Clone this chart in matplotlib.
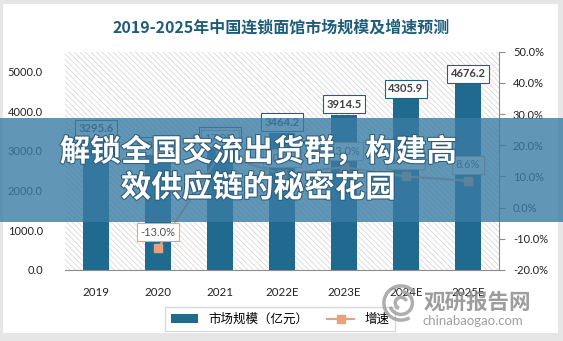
import numpy as np
import matplotlib
matplotlib.use("Agg")
import matplotlib.pyplot as plt
from matplotlib.patches import Rectangle, Patch, Arc
from matplotlib.lines import Line2D
import matplotlib.patheffects as pe

plt.rcParams['font.family'] = ['Lato', 'Noto Sans CJK SC', 'DejaVu Sans']
plt.rcParams['axes.unicode_minus'] = False
plt.rcParams['hatch.linewidth'] = 0.5

years = ["2019", "2020", "2021", "2022E", "2023E", "2024E", "2025E"]
market_size = [3295.6, 2867.2, 3130.0, 3464.2, 3914.5, 4305.9, 4676.2]
growth = [None, -13.0, 17.0, 10.7, 13.0, 10.0, 8.6]

BAR = "#1f6a8e"
LINE = "#e9a07d"
W, H = 563, 341

fig = plt.figure(figsize=(W / 100, H / 100), dpi=100)
fig.patch.set_facecolor("#e6e6e6")
fig.patches.append(Rectangle((3 / W, 1 - 333 / H), 555 / W, 329 / H,
                             transform=fig.transFigure, facecolor="white",
                             edgecolor="none", zorder=0))

ax = fig.add_axes([65 / W, 1 - 270 / H, 434 / W, 218.3 / H])
ax.set_zorder(1)
ax.patch.set_alpha(0)
# hatched plot area
ax.add_patch(Rectangle((0, 0), 1, 1, transform=ax.transAxes, facecolor="white",
                       edgecolor="#d2d2d2", hatch="\\" * 6, linewidth=0, zorder=0))

x = np.arange(len(years))
ax.bar(x, market_size, width=0.42, color=BAR, zorder=2)
ax.set_xlim(-0.5, len(years) - 0.5)
ax.set_ylim(0, 5500)
ax.set_yticks(np.arange(0, 5001, 1000))
ax.set_yticklabels([f"{v:.1f}" for v in np.arange(0, 5001, 1000)])
ax.set_xticks(x)
ax.set_xticklabels(years)
ax.tick_params(axis="y", length=0, pad=16, labelsize=8, labelcolor="#222222")
ax.tick_params(axis="x", length=0, pad=12, labelsize=8.3, labelcolor="#222222")
for s in ["top", "left", "right"]:
    ax.spines[s].set_visible(False)
ax.spines["bottom"].set_color("#8c8c8c")

for xi, v in zip(x, market_size):
    ax.annotate(f"{v:.1f}", (xi, v), xytext=(0, 7.5), textcoords="offset points",
                ha="center", va="center", fontsize=8, fontweight="bold",
                color="#404040", zorder=5,
                bbox=dict(boxstyle="square,pad=0.3", fc="white", ec="#1f5f7f", lw=0.8))

ax2 = ax.twinx()
ax2.set_ylim(-20, 50)
ax2.set_yticks(np.arange(-20, 51, 10))
ax2.set_yticklabels([f"{v:.1f}%" for v in np.arange(-20, 51, 10)])
ax2.tick_params(axis="y", length=4, width=0.8, color="#8c8c8c", pad=6,
                labelsize=8, labelcolor="#222222")
for s in ["top", "left", "bottom"]:
    ax2.spines[s].set_visible(False)
ax2.spines["right"].set_color("#8c8c8c")

gx = [xi for xi, g in zip(x, growth) if g is not None]
gy = [g for g in growth if g is not None]
ax2.plot(gx, gy, color=LINE, lw=1.5, marker="s", markersize=5.5, zorder=4)
for xi, g in zip(gx, gy):
    ax2.annotate(f"{g:.1f}%", (xi, g), xytext=(0, 11.5), textcoords="offset points",
                 ha="center", va="center", fontsize=8, color="#505050", zorder=5,
                 bbox=dict(boxstyle="square,pad=0.3", fc="white", ec=LINE, lw=0.8))

fig.text(0.499, 1 - 27 / H, "2019-2025年中国连锁面馆市场规模及增速预测",
         ha="center", va="center", fontsize=11.5, fontweight="bold",
         color="#1f5c7a", family=["Noto Sans CJK SC", "DejaVu Sans"])

handles = [Patch(facecolor=BAR, edgecolor="none"),
           Line2D([], [], color=LINE, lw=1.5, marker="s", markersize=5.5)]
fig.legend(handles, ["市场规模（亿元）", "增速"], loc="center",
           bbox_to_anchor=(280 / W, 1 - 319 / H), ncol=2, frameon=True,
           fancybox=False, edgecolor="#d0d0d0", fontsize=9, handlelength=2.2,
           columnspacing=1.5, borderpad=0.45)

# banner overlay
fig.patches.append(Rectangle((0, 1 - 222 / H), 1, 104 / H, transform=fig.transFigure,
                             facecolor="#3a7ca5", alpha=0.8, edgecolor="none", zorder=10))
for txt, yc in [("解锁全国交流出货群，构建高", 152), ("效供应链的秘密花园", 188)]:
    fig.text(258 / W, 1 - yc / H, txt, ha="center", va="center", fontsize=22,
             fontweight="heavy", color="white", zorder=11,
             family=["Noto Sans CJK SC"],
             path_effects=[pe.withStroke(linewidth=1.5, foreground="#2b5c7a")])

# watermark
fig.text(477 / W, 1 - 302 / H, "观研报告网", ha="center", va="center", fontsize=15.5,
         fontweight="heavy", color="#8c8c8c", alpha=0.85, zorder=12,
         family=["Noto Sans CJK SC"])
fig.text(473 / W, 1 - 321 / H, "chinabaogao.com", ha="center", va="center",
         fontsize=9.5, color="#8f8f8f", alpha=0.85, zorder=12)
lax = fig.add_axes([382 / W, 1 - 322 / H, 38 / W, 38 / H])
lax.set_xlim(-1, 1)
lax.set_ylim(-1, 1)
lax.set_aspect("equal")
lax.axis("off")
lax.set_zorder(12)
for r, t1, t2 in [(0.9, 40, 300), (0.6, 200, 90), (0.3, 20, 250)]:
    lax.add_patch(Arc((0, 0), 2 * r, 2 * r, theta1=t1, theta2=t2,
                      color="#a0a0a0", lw=2.5, alpha=0.85))

fig.savefig("out.png", dpi=100, facecolor=fig.get_facecolor())
